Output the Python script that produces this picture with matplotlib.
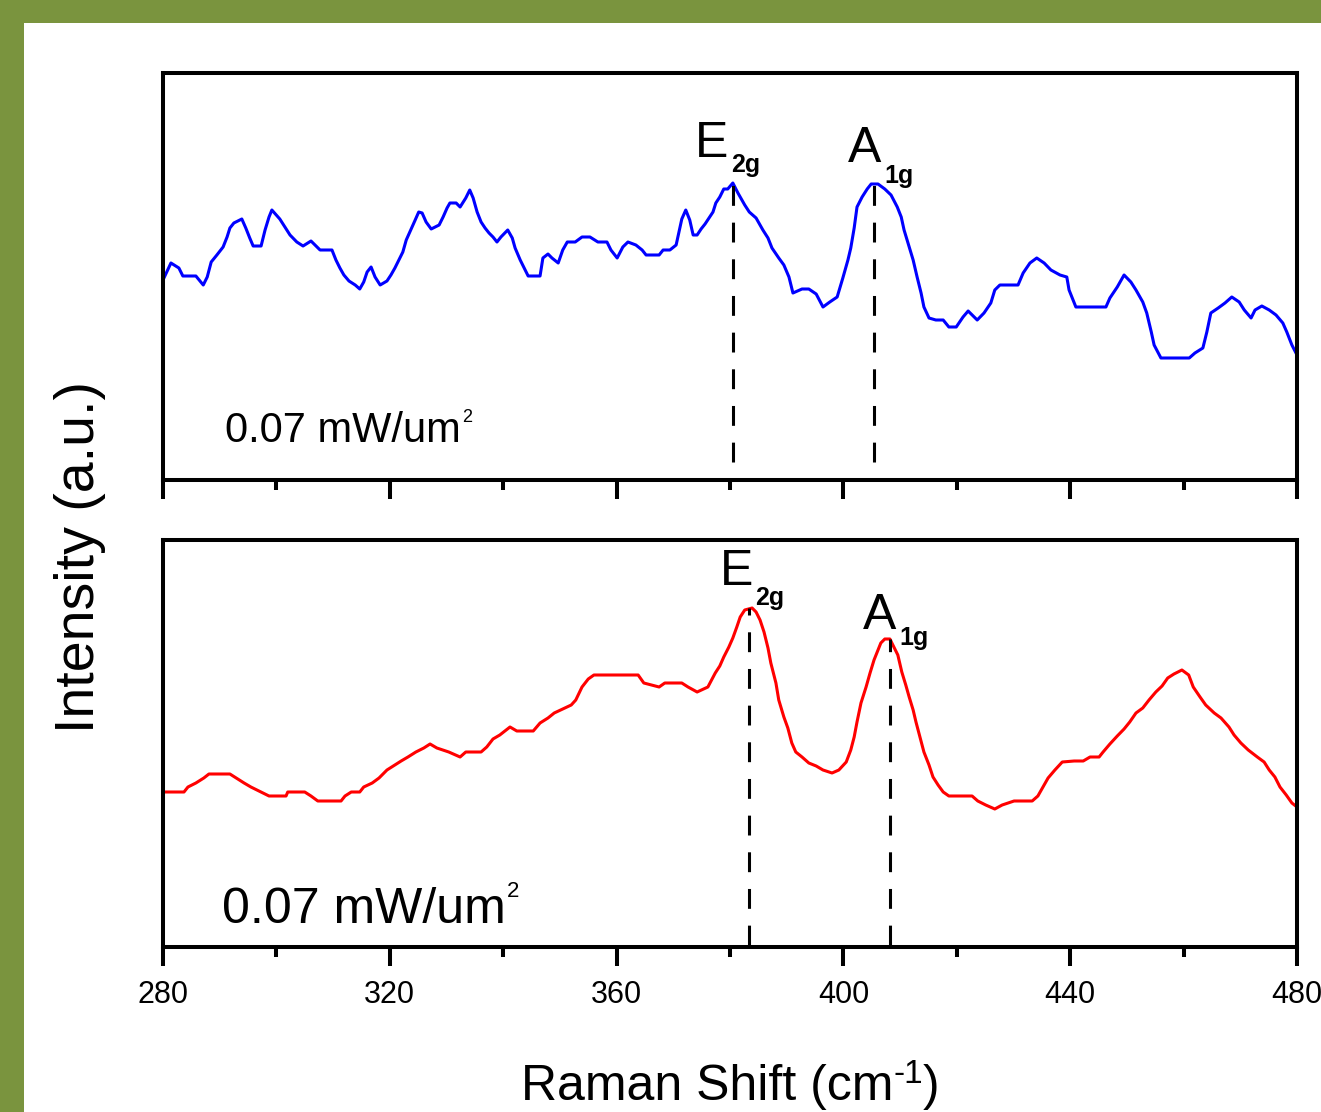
import matplotlib
matplotlib.use("Agg")
import matplotlib.pyplot as plt
from matplotlib.patches import Rectangle

FONT = ['Liberation Sans', 'DejaVu Sans']
plt.rcParams['font.family'] = FONT

# top panel spectrum (blue)
shift_top = [280.0, 281.4, 282.8, 283.5, 285.8, 287.1, 287.8, 288.5, 289.5, 290.6,
             291.3, 291.8, 292.5, 293.9, 294.6, 295.3, 295.9, 297.3, 298.0, 298.7,
             299.2, 300.6, 301.5, 302.4, 303.6, 304.7, 306.1, 307.0, 307.7, 309.8,
             310.5, 311.2, 311.9, 312.8, 313.9, 314.7, 315.4, 316.0, 316.7, 317.4,
             318.3, 319.5, 320.2, 320.9, 321.6, 322.3, 322.9, 323.7, 324.4, 325.1,
             325.7, 326.4, 327.3, 328.7, 329.4, 330.1, 330.6, 331.7, 332.4, 333.4,
             334.1, 334.7, 335.4, 336.1, 336.8, 337.5, 338.2, 338.9, 339.6, 340.8,
             341.6, 342.1, 343.0, 343.7, 344.4, 346.5, 347.0, 347.9, 348.6, 349.7,
             350.5, 351.3, 352.7, 353.9, 355.3, 356.7, 358.3, 359.0, 360.1, 361.1,
             362.0, 363.4, 364.5, 365.2, 367.5, 368.2, 369.4, 370.5, 371.0, 371.5,
             372.2, 372.9, 373.5, 374.2, 374.9, 375.6, 376.3, 377.0, 377.5, 378.2,
             378.9, 379.6, 380.5, 381.4, 382.6, 383.4, 384.6, 385.8, 386.7, 387.4,
             388.6, 389.5, 390.4, 391.1, 392.7, 393.9, 395.2, 396.4, 397.6, 398.9,
             399.9, 400.8, 401.3, 401.9, 402.4, 403.3, 404.2, 404.9, 406.1, 407.3,
             408.4, 409.5, 410.2, 410.7, 411.4, 412.3, 413.0, 413.7, 414.2, 415.1,
             416.3, 417.6, 418.6, 419.9, 421.1, 422.0, 422.7, 423.6, 424.8, 426.0,
             426.7, 427.6, 430.8, 431.7, 432.9, 434.1, 435.4, 436.6, 438.2, 439.4,
             439.8, 441.0, 446.3, 447.0, 448.3, 449.5, 450.7, 451.6, 452.8, 453.5,
             454.3, 454.8, 456.0, 461.0, 462.0, 463.4, 464.1, 464.8, 466.1, 467.3,
             468.5, 469.8, 470.7, 471.9, 472.6, 473.8, 475.1, 476.3, 477.5, 478.2,
             479.1, 480.0]
int_top = [200, 217, 212, 204, 204, 195, 203, 218, 225, 233,
           243, 252, 257, 261, 252, 242, 234, 234, 250, 263,
           270, 261, 253, 245, 238, 234, 239, 234, 230, 230,
           220, 212, 205, 199, 195, 191, 198, 208, 213, 203,
           195, 199, 205, 212, 220, 228, 240, 250, 259, 268,
           267, 258, 251, 255, 263, 272, 277, 277, 273, 282,
           290, 282, 268, 258, 252, 247, 243, 238, 243, 250,
           242, 232, 220, 212, 204, 204, 222, 226, 222, 217,
           230, 238, 238, 243, 243, 238, 238, 230, 222, 233,
           238, 235, 230, 225, 225, 230, 230, 235, 248, 261,
           270, 260, 245, 245, 251, 256, 262, 268, 277, 283,
           291, 291, 297, 287, 275, 268, 262, 250, 242, 232,
           222, 215, 203, 187, 191, 191, 186, 173, 178, 183,
           202, 220, 232, 252, 273, 283, 291, 296, 296, 291,
           285, 273, 263, 250, 237, 220, 203, 187, 173, 162,
           160, 160, 153, 153, 163, 169, 165, 160, 167, 177,
           190, 195, 195, 207, 217, 222, 217, 210, 205, 203,
           190, 173, 173, 182, 193, 205, 198, 190, 178, 167,
           148, 135, 122, 122, 127, 132, 148, 167, 172, 177,
           183, 178, 170, 162, 170, 174, 170, 165, 157, 148,
           135, 125]

# bottom panel spectrum (red)
shift_bot = [280.0, 283.7, 284.4, 285.8, 287.2, 288.1, 291.8, 292.9, 294.3, 295.5,
             297.3, 298.7, 301.7, 302.0, 305.0, 306.1, 307.3, 311.4, 312.1, 313.2,
             314.7, 315.4, 316.9, 318.1, 319.5, 320.9, 322.0, 323.2, 324.6, 326.0,
             327.1, 328.3, 330.4, 332.4, 333.4, 336.1, 337.1, 338.2, 339.4, 341.2,
             342.4, 345.3, 346.5, 347.9, 349.0, 350.5, 352.0, 352.8, 353.4, 353.9,
             355.0, 356.0, 363.8, 364.8, 367.5, 368.5, 371.5, 372.6, 374.2, 376.1,
             377.4, 378.2, 378.9, 379.8, 380.5, 381.2, 381.8, 382.6, 383.9, 384.6,
             385.3, 386.0, 386.7, 387.2, 388.1, 388.6, 389.5, 390.2, 390.9, 391.6,
             392.7, 393.9, 395.2, 396.4, 398.0, 399.2, 400.5, 401.3, 401.9, 402.4,
             403.1, 404.0, 404.7, 405.4, 406.1, 406.6, 407.3, 408.2, 408.9, 409.6,
             410.3, 411.0, 411.6, 412.3, 412.8, 413.5, 414.2, 415.1, 415.8, 416.7,
             417.6, 418.6, 422.7, 423.7, 425.1, 426.7, 428.0, 430.1, 433.3, 434.3,
             435.2, 436.1, 437.3, 438.6, 440.7, 442.3, 443.5, 445.1, 445.8, 447.0,
             448.3, 449.5, 450.5, 451.6, 452.8, 453.9, 455.1, 456.2, 457.2, 458.3,
             459.7, 460.9, 461.7, 462.9, 463.9, 465.4, 466.6, 468.0, 468.9, 470.1,
             471.4, 473.0, 474.2, 475.1, 476.1, 477.0, 478.1, 479.1, 480.0]
int_bot = [155, 155, 160, 164, 169, 173, 173, 169, 164, 160,
           155, 151, 151, 155, 155, 151, 146, 146, 151, 155,
           155, 160, 164, 169, 177, 182, 186, 190, 195, 199,
           203, 199, 195, 190, 195, 195, 200, 208, 212, 220,
           216, 216, 224, 229, 234, 238, 242, 247, 254, 260,
           268, 272, 272, 264, 260, 264, 264, 260, 255, 260,
           274, 281, 290, 300, 309, 320, 330, 337, 339, 335,
           327, 315, 299, 284, 264, 247, 230, 219, 204, 195,
           190, 184, 181, 177, 174, 177, 185, 197, 210, 225,
           244, 260, 274, 287, 297, 304, 308, 308, 300, 292,
           275, 262, 250, 237, 225, 210, 195, 182, 170, 162,
           155, 151, 151, 146, 142, 138, 142, 146, 146, 151,
           160, 169, 177, 185, 186, 186, 190, 190, 195, 203,
           211, 218, 225, 234, 239, 247, 255, 261, 269, 273,
           277, 272, 260, 250, 242, 234, 229, 220, 212, 204,
           197, 190, 185, 177, 170, 160, 152, 144, 140]

# peak positions (cm-1) for the dashed markers
peaks_top = [380.5, 405.4]
peak_int_top = [297, 296]
peaks_bot = [383.3, 408.2]
peak_int_bot = [339, 308]

major_ticks = [280, 320, 360, 400, 440, 480]
minor_ticks = [300, 340, 380, 420, 460]

W, H = 1321, 1112
fig = plt.figure(figsize=(W / 100, H / 100), dpi=100)
fig.patch.set_facecolor('white')
renderer = fig.canvas.get_renderer()

# olive frame on top and left
green = '#7a943e'
fig.patches.append(Rectangle((0, 1 - 23 / H), 1, 23 / H, transform=fig.transFigure,
                             facecolor=green, edgecolor='none', zorder=0))
fig.patches.append(Rectangle((0, 0), 24 / W, 1, transform=fig.transFigure,
                             facecolor=green, edgecolor='none', zorder=0))

ax_top = fig.add_axes([163 / W, 1 - 480 / H, 1134 / W, 407 / H])
ax_bot = fig.add_axes([163 / W, 1 - 947 / H, 1134 / W, 407 / H])

for ax in (ax_top, ax_bot):
    ax.set_xlim(280, 480)
    ax.set_ylim(0, 407)
    ax.set_yticks([])
    ax.set_xticks(major_ticks)
    ax.set_xticks(minor_ticks, minor=True)
    ax.tick_params(axis='x', which='major', direction='out', length=14, width=2.9,
                   pad=10, labelsize=22)
    ax.tick_params(axis='x', which='minor', direction='out', length=7, width=2.9)
    for sp in ax.spines.values():
        sp.set_linewidth(2.9)

ax_top.tick_params(axis='x', which='major', labelbottom=False)

ax_top.plot(shift_top, int_top, color='#0000ff', linewidth=2.2)
ax_bot.plot(shift_bot, int_bot, color='#ff0000', linewidth=2.2)

for xp, yp in zip(peaks_top, peak_int_top):
    ax_top.plot([xp, xp], [18, yp], color='black', linewidth=2.2,
                dashes=(6.5, 5.5))
for xp, yp in zip(peaks_bot, peak_int_bot):
    ax_bot.plot([xp, xp], [2, yp], color='black', linewidth=2.2,
                dashes=(6.5, 5.5))


def sup_after(ax, t, s, size, rise_px, gap_px=2):
    # put a small raised text right after text t (same baseline + rise)
    bb = t.get_window_extent(renderer)
    _, yb = ax.transData.transform(t.get_position())
    x, y = ax.transData.inverted().transform((bb.x1 + gap_px, yb + rise_px))
    return ax.text(x, y, s, fontsize=size, va='baseline')


# peak labels
ax_top.text(373.8, 323, 'E', fontsize=36, va='baseline')
ax_top.text(380.2, 308, '2g', fontsize=18, fontweight='bold', va='baseline')
ax_top.text(400.8, 318, 'A', fontsize=36, va='baseline')
ax_top.text(407.2, 297, '1g', fontsize=18, fontweight='bold', va='baseline')

ax_bot.text(378.2, 362, 'E', fontsize=36, va='baseline')
ax_bot.text(384.4, 342, '2g', fontsize=18, fontweight='bold', va='baseline')
ax_bot.text(403.5, 318, 'A', fontsize=36, va='baseline')
ax_bot.text(409.8, 302, '1g', fontsize=18, fontweight='bold', va='baseline')

# power density labels
t = ax_top.text(290.9, 38, '0.07 mW/um', fontsize=30, va='baseline')
sup_after(ax_top, t, '2', 13, 20)
t = ax_bot.text(290.4, 24, '0.07 mW/um', fontsize=36, va='baseline')
sup_after(ax_bot, t, '2', 16, 26, gap_px=1)

fig.text(80 / W, 1 - 557 / H, 'Intensity (a.u.)', rotation=90, fontsize=40,
         ha='center', va='center')

# x label built from pieces so the superscript keeps a plain hyphen
parts = [('Raman Shift (cm', 36, 0), ('-1', 24, 17), (')', 36, 0)]
texts = [fig.text(0, 0, s, fontsize=fs, va='baseline') for s, fs, _ in parts]
widths = [tx.get_window_extent(renderer).width for tx in texts]
x = 730 - sum(widths) / 2
base = H - 1100
for tx, (s, fs, rise), w in zip(texts, parts, widths):
    tx.set_position((x / W, (base + rise) / H))
    x += w

fig.savefig('out.png', dpi=100)
